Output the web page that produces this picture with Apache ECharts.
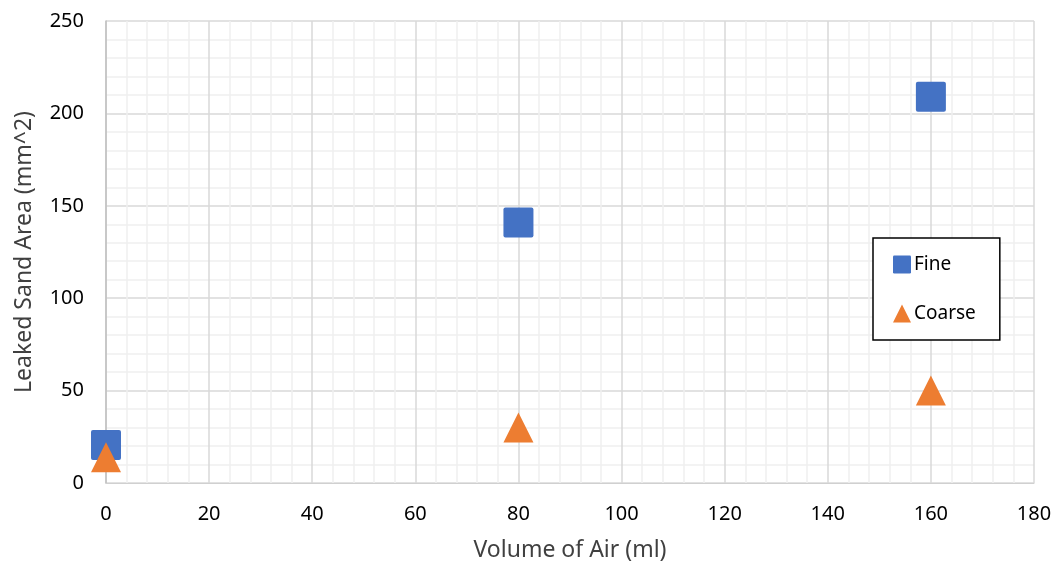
<!DOCTYPE html>
<html>
<head>
<meta charset="utf-8">
<script src="https://cdn.jsdelivr.net/npm/echarts@6/dist/echarts.min.js"></script>
<style>
  html, body { margin: 0; padding: 0; background: #fff; }
  #chart { width: 1059px; height: 567px; }
</style>
</head>
<body>
<div id="chart"></div>
<script>
// Air volume (ml) at which each sample was measured
const airVolume = [0, 80, 160];
// Leaked sand area (mm^2) per sand type
const fineArea = [20.5, 141, 209];
const coarseArea = [14, 30, 50];

const FONT = 'Noto Sans';
// Square marker with slightly softened corners
const SQUARE = 'path://M2,0 H28 Q30,0 30,2 V28 Q30,30 28,30 H2 Q0,30 0,28 V2 Q0,0 2,0 Z';

const chart = echarts.init(document.getElementById('chart'));

const pairs = (xs, ys) => xs.map((x, i) => [x, ys[i]]);

chart.setOption({
  animation: false,
  backgroundColor: '#ffffff',
  textStyle: { fontFamily: FONT },
  grid: { left: 106, right: 25, top: 21, bottom: 83 },
  xAxis: {
    type: 'value',
    min: 0, max: 180, interval: 20,
    name: 'Volume of Air (ml)',
    nameLocation: 'middle',
    nameGap: 56,
    nameTextStyle: { fontSize: 23, color: '#404040', fontFamily: FONT },
    axisLine: { show: true, lineStyle: { color: '#d0d0d0', width: 1 } },
    axisTick: { show: false },
    axisLabel: { fontSize: 20, color: '#000', margin: 21, fontFamily: FONT },
    splitLine: { show: true, lineStyle: { color: '#d9d9d9', width: 1.5 } },
    minorTick: { show: false, splitNumber: 5 },
    minorSplitLine: { show: true, lineStyle: { color: '#f0f0f0', width: 1.5 } }
  },
  yAxis: {
    type: 'value',
    min: 0, max: 250, interval: 50,
    name: 'Leaked Sand Area (mm^2)',
    nameLocation: 'middle',
    nameGap: 70,
    nameRotate: 90,
    nameTextStyle: { fontSize: 23, color: '#404040', fontFamily: FONT },
    axisLine: { show: true, lineStyle: { color: '#bfbfbf', width: 1.5 } },
    axisTick: { show: false },
    axisLabel: { fontSize: 20, color: '#000', margin: 22, fontFamily: FONT },
    splitLine: { show: true, lineStyle: { color: '#d9d9d9', width: 1.5 } },
    minorTick: { show: false, splitNumber: 5 },
    minorSplitLine: { show: true, lineStyle: { color: '#f0f0f0', width: 1.5 } }
  },
  legend: {
    orient: 'vertical',
    left: 873,
    top: 238,
    padding: [17, 24, 17, 20],
    itemGap: 30,
    itemWidth: 18,
    itemHeight: 18,
    borderColor: '#000',
    borderWidth: 1.5,
    backgroundColor: '#fff',
    textStyle: { fontSize: 19, color: '#000', fontFamily: FONT, padding: [0, 0, 0, -2] },
    data: [
      { name: 'Fine', icon: SQUARE },
      { name: 'Coarse', icon: 'triangle' }
    ]
  },
  series: [
    {
      name: 'Fine',
      type: 'scatter',
      symbol: SQUARE,
      symbolSize: 30,
      itemStyle: { color: '#4472C4', opacity: 1 },
      data: pairs(airVolume, fineArea),
      z: 2
    },
    {
      name: 'Coarse',
      type: 'scatter',
      symbol: 'triangle',
      symbolSize: 30,
      itemStyle: { color: '#ED7D31', opacity: 1 },
      data: pairs(airVolume, coarseArea),
      z: 3
    }
  ]
});
</script>
</body>
</html>
